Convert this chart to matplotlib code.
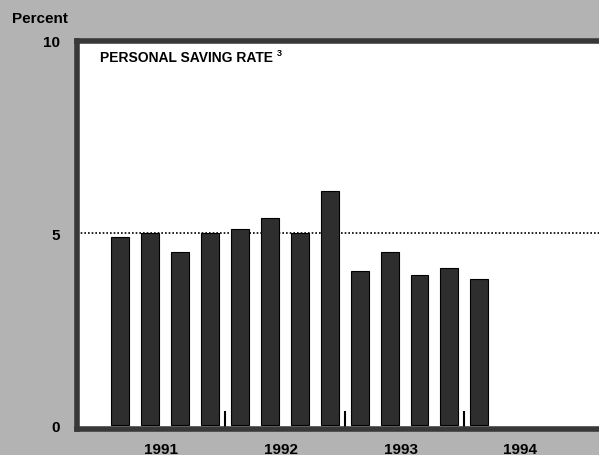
# plot.py

import numpy as np

import matplotlib.pyplot as plt

import matplotlib.transforms as mtransforms


# =========================================
# Data
# =========================================

quarters = [

    "1991Q1", "1991Q2", "1991Q3", "1991Q4",

    "1992Q1", "1992Q2", "1992Q3", "1992Q4",

    "1993Q1", "1993Q2", "1993Q3", "1993Q4",

    "1994Q1"
]

saving_rate = [

    4.9, 5.0, 4.5, 5.0,

    5.1, 5.4, 5.0, 6.1,

    4.0, 4.5, 3.9, 4.1,

    3.8
]

year_labels = ["1991", "1992", "1993", "1994"]

y_ticks = [0, 5, 10]


# =========================================
# Style
# =========================================

bg_color = "#b3b3b3"

frame_color = "#383838"

bar_color = "#2e2e2e"

plt.rcParams["font.family"] = ["Liberation Sans", "DejaVu Sans"]


# =========================================
# Figure
# =========================================

fig = plt.figure(

    figsize=(5.99, 4.56),

    dpi=100,

    facecolor=bg_color
)

ax = fig.add_axes([0.1285, 0.057, 0.8915, 0.851])

ax.set_facecolor("white")


# =========================================
# Bars
# =========================================

x = np.arange(len(quarters))

ax.bar(

    x,

    saving_rate,

    width=0.6,

    color=bar_color,

    edgecolor="black",

    linewidth=0.8,

    zorder=3
)


# =========================================
# Reference line at 5 percent
# =========================================

ax.axhline(

    5,

    color="black",

    linestyle=(0, (1, 1.2)),

    linewidth=1.2,

    zorder=2
)


# =========================================
# Axes limits / ticks
# =========================================

ax.set_xlim(-1.45, 16.4)

ax.set_ylim(-0.1, 10)

ax.set_yticks(y_ticks)

ax.set_yticklabels([str(t) for t in y_ticks], fontsize=11, fontweight="bold")

ax.tick_params(axis="y", length=0, pad=12)

year_centers = [1.5 + 4 * k for k in range(len(year_labels))]

ax.set_xticks(year_centers)

ax.set_xticklabels(year_labels, fontsize=11, fontweight="bold")

ax.tick_params(axis="x", which="major", length=0, pad=9)

shift = mtransforms.ScaledTranslation(-4 / 100, 0, fig.dpi_scale_trans)

for lbl in ax.get_xticklabels():

    lbl.set_transform(lbl.get_transform() + shift)

year_bounds = [3.5 + 4 * k for k in range(3)]

ax.set_xticks(year_bounds, minor=True)

ax.tick_params(

    axis="x",

    which="minor",

    direction="in",

    length=13,

    width=1.5,

    color="black"
)


# =========================================
# Frame
# =========================================

for side in ["left", "top", "bottom", "right"]:

    ax.spines[side].set_color(frame_color)

    ax.spines[side].set_linewidth(4)


# =========================================
# Labels
# =========================================

fig.text(

    12 / 599,

    1 - 19 / 456,

    "Percent",

    fontsize=11,

    fontweight="bold",

    va="center",

    ha="left"
)

fig.text(

    100 / 599,

    1 - 58 / 456,

    "PERSONAL SAVING RATE",

    fontsize=10,

    fontweight="bold",

    va="center",

    ha="left"
)

fig.text(

    277 / 599,

    1 - 54 / 456,

    "3",

    fontsize=6.5,

    fontweight="bold",

    va="center",

    ha="left"
)


# =========================================
# Save
# =========================================

plt.savefig(

    "out.png",

    dpi=100,

    facecolor=bg_color
)
